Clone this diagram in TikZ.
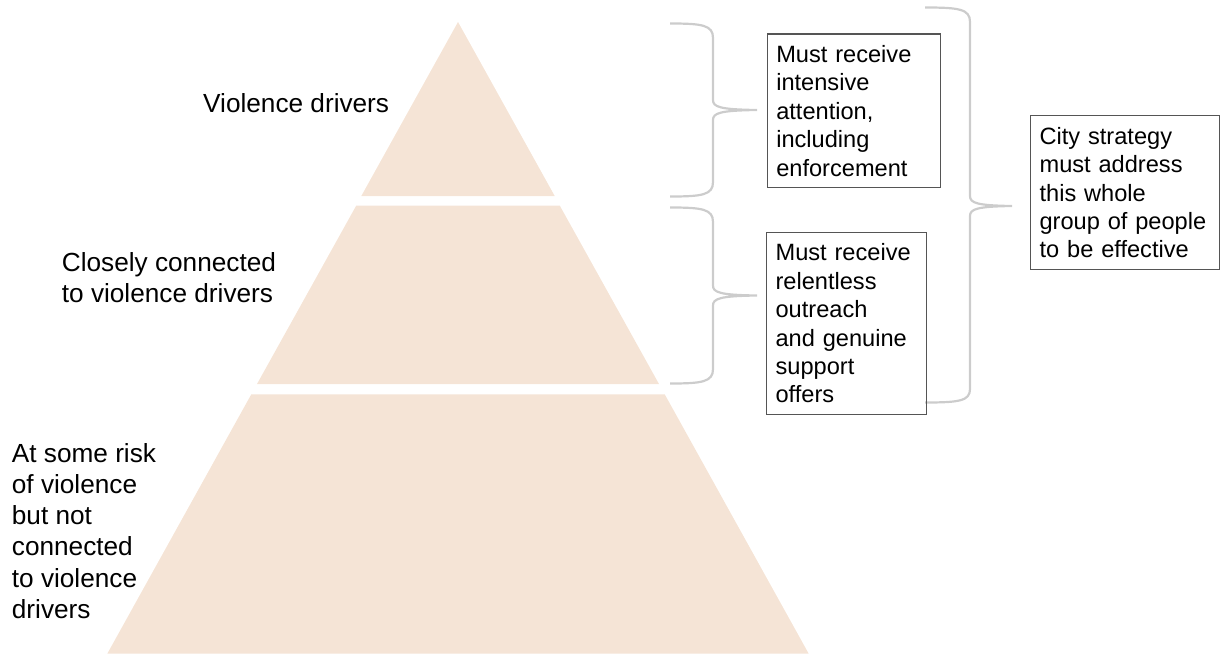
\documentclass[tikz,border=0pt]{standalone}
\usepackage{fontspec}
\setmainfont{Liberation Sans}
\usepackage{xcolor}
\usepackage{tikz}
\usetikzlibrary{positioning}

\definecolor{tierfill}{HTML}{F5E4D6}
\definecolor{bracegray}{HTML}{CCCCCC}
\definecolor{boxline}{HTML}{555555}

\begin{document}
\begin{tikzpicture}[x=1pt, y=-1pt,
    tier/.style={fill=tierfill, draw=none},
    tierlabel/.style={anchor=north west, inner sep=0pt, align=left, font=\fontsize{26.2}{31.3}\selectfont},
    box/.style={draw=boxline, line width=1.2pt, anchor=north west, inner xsep=9pt, inner ysep=11.5pt, align=left, font=\fontsize{23.6}{28.4}\selectfont},
    bracket/.style={draw=bracegray, line width=2.2pt}
]
    \useasboundingbox (0,0) rectangle (1220,653);

    % pyramid tiers
    \fill[tier] (458,22) -- (554.7,196) -- (361.3,196) -- cycle;
    \fill[tier] (356.3,205.5) -- (559.7,205.5) -- (659.1,384.2) -- (256.9,384.2) -- cycle;
    \fill[tier] (251.3,394.3) -- (664.7,394.3) -- (808.6,653.5) -- (107.4,653.5) -- cycle;

    % tier labels
    \node[tierlabel] (drivers) at (203,92.9) {Violence drivers};
    \node[tierlabel] (connected) at (61.7,251.9) {Closely connected\\to violence drivers};
    \node[tierlabel] (atrisk) at (11.7,442.9) {At some risk\\of violence\\but not\\connected\\to violence\\drivers};

    % braces
    \draw[bracket] (670,23.5) .. controls (702,23.5) and (713,25) .. (713,38) -- (713,100)
        .. controls (713,107) and (720,109.5) .. (757,110)
        .. controls (720,110.5) and (713,113) .. (713,120) -- (713,182)
        .. controls (713,195) and (702,196.5) .. (670,196.5);
    \draw[bracket] (670,207.5) .. controls (702,207.5) and (713,209) .. (713,222) -- (713,285.5)
        .. controls (713,292.5) and (720,295) .. (757,295.5)
        .. controls (720,296) and (713,298.5) .. (713,305.5) -- (713,369)
        .. controls (713,382) and (702,383.5) .. (670,383.5);
    \draw[bracket] (925,7.5) .. controls (959,7.5) and (970,9) .. (970,22) -- (970,196)
        .. controls (970,203) and (977,205.5) .. (1012,206)
        .. controls (977,206.5) and (970,209) .. (970,216) -- (970,389)
        .. controls (970,401) and (959,402.5) .. (925,402.5);

    % boxes
    \node[box, text width=155.3pt] (intensive) at (766.7,33.3) {Must receive\\intensive\\attention,\\including\\enforcement};
    \node[box, text width=141.7pt] (outreach) at (766,231.7) {Must receive\\relentless\\outreach\\and genuine\\support\\offers};
    \node[box, text width=171pt] (strategy) at (1030,115) {City strategy\\must address\\this whole\\group of people\\to be effective};
\end{tikzpicture}
\end{document}
